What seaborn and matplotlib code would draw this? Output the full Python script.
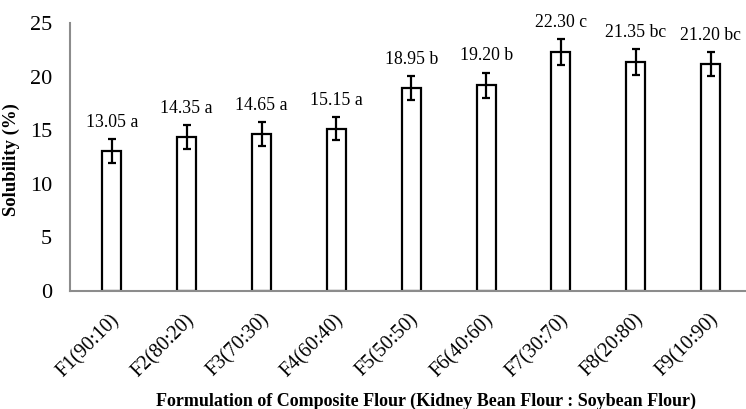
import matplotlib
matplotlib.use("Agg")
import matplotlib.pyplot as plt
import matplotlib.transforms as mtransforms
import seaborn as sns
import numpy as np

categories = ["F1(90:10)", "F2(80:20)", "F3(70:30)", "F4(60:40)", "F5(50:50)",
              "F6(40:60)", "F7(30:70)", "F8(20:80)", "F9(10:90)"]
solubility = [13.05, 14.35, 14.65, 15.15, 18.95, 19.20, 22.30, 21.35, 21.20]
errors = [1.13, 1.14, 1.09, 1.11, 1.11, 1.17, 1.20, 1.20, 1.12]
letters = ["a", "a", "a", "a", "b", "b", "c", "bc", "bc"]
yticks = [0, 5, 10, 15, 20, 25]

sns.set_theme(style="white")
plt.rcParams["font.family"] = ["Liberation Serif", "DejaVu Serif"]
plt.rcParams["text.color"] = "black"
plt.rcParams["xtick.color"] = "black"
plt.rcParams["ytick.color"] = "black"
plt.rcParams["axes.labelcolor"] = "black"

fig = plt.figure(figsize=(7.46, 4.09), dpi=100)
ax = fig.add_axes([0.0938, 0.2885, 0.9062, 0.6553])

sns.barplot(x=categories, y=solubility, color="white", edgecolor="black",
            linewidth=1.6, width=0.253, saturation=1, errorbar=None, ax=ax)
xpos = np.arange(len(categories))
ax.errorbar(xpos, solubility, yerr=errors, fmt="none", ecolor="black",
            elinewidth=1.6, capsize=2.9, capthick=1.6, zorder=5)

for xi, v, e, l in zip(xpos, solubility, errors, letters):
    ax.annotate(f"{v:.2f} {l}", xy=(xi, v + e), xytext=(0, 12),
                textcoords="offset points", ha="center", va="center",
                fontsize=12.8, color="black")

ax.set_ylim(0, 25)
ax.set_xlim(-0.56, 8.473)
ax.set_yticks(yticks)
ax.set_yticklabels([str(t) for t in yticks], fontsize=16)
ax.tick_params(axis="y", length=4, width=1, color="#8c8c8c", labelcolor="black", pad=9)
ax.tick_params(axis="x", length=0, pad=14, labelcolor="black")

offset = mtransforms.ScaledTranslation(-2 / 100, 0, fig.dpi_scale_trans)
for lab in ax.get_xticklabels():
    lab.set_rotation(45)
    lab.set_ha("right")
    lab.set_va("top")
    lab.set_rotation_mode("anchor")
    lab.set_fontsize(14.5)
    lab.set_transform(lab.get_transform() + offset)

for s in ["top", "right"]:
    ax.spines[s].set_visible(False)
for s in ["left", "bottom"]:
    ax.spines[s].set_color("#8c8c8c")
    ax.spines[s].set_linewidth(1.5)

ax.set_ylabel("Solubility (%)", fontsize=13.5, fontweight="bold")
ax.yaxis.set_label_coords(-0.074, 0.49)
ax.set_xlabel("Formulation of Composite Flour (Kidney Bean Flour : Soybean Flour)",
              fontsize=13, fontweight="bold")
ax.xaxis.set_label_coords(0.526, -0.41)
ax.xaxis.label.set_va("center")

fig.savefig("out.png", dpi=100)
